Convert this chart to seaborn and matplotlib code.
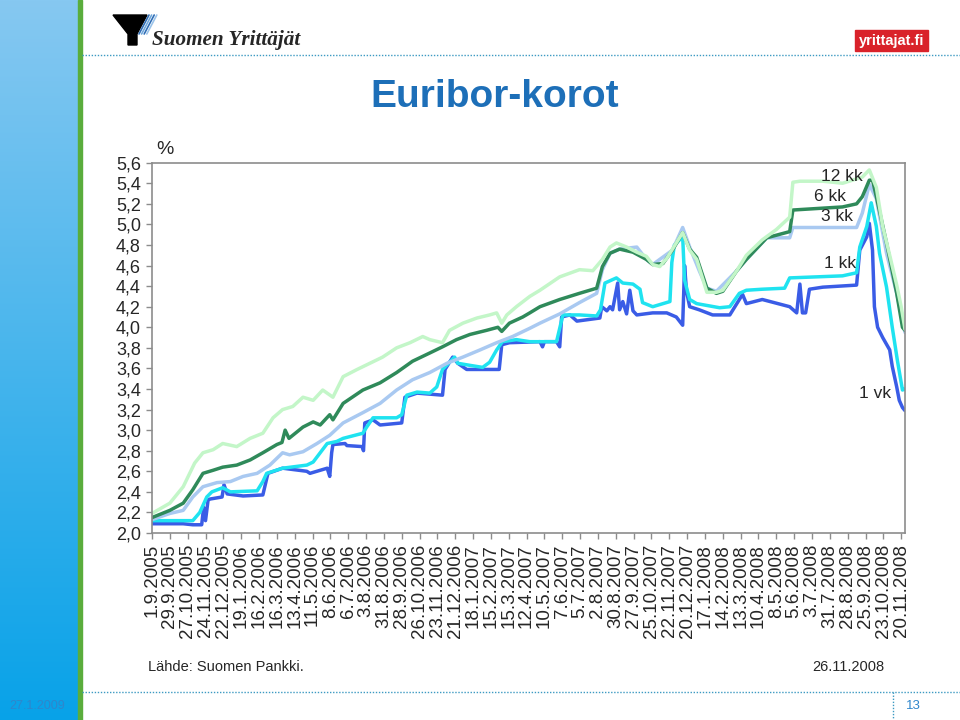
import numpy as np
import pandas as pd
import matplotlib
matplotlib.use("Agg")
import matplotlib.pyplot as plt
from matplotlib.patches import Rectangle, Polygon
import seaborn as sns

sns.set_theme(style="white")
plt.rcParams["font.family"] = ["Liberation Sans", "DejaVu Sans"]

# --- data (date, %) ---
series_names = ["1 vk", "1 kk", "3 kk", "6 kk", "12 kk"]
series_colors = ["#3a5ce6", "#1fe3f0", "#a9c9f1", "#2f8a5a", "#c3f6c8"]

vk1 = [
    ("2005-09-01", 2.09), ("2005-10-20", 2.09), ("2005-11-04", 2.08), ("2005-11-18", 2.08),
    ("2005-11-21", 2.25), ("2005-11-24", 2.12), ("2005-11-28", 2.32), ("2005-12-01", 2.33),
    ("2005-12-20", 2.35), ("2005-12-23", 2.47), ("2005-12-28", 2.38), ("2006-01-22", 2.36),
    ("2006-02-22", 2.37), ("2006-03-02", 2.58), ("2006-03-25", 2.63), ("2006-05-02", 2.60),
    ("2006-05-07", 2.58), ("2006-06-03", 2.63), ("2006-06-07", 2.55), ("2006-06-10", 2.78),
    ("2006-06-12", 2.86), ("2006-07-01", 2.87), ("2006-07-04", 2.85), ("2006-07-28", 2.84),
    ("2006-07-30", 2.80), ("2006-08-01", 3.07), ("2006-08-14", 3.10), ("2006-08-25", 3.05),
    ("2006-09-28", 3.07), ("2006-10-03", 3.32), ("2006-10-22", 3.36), ("2006-12-01", 3.34),
    ("2006-12-05", 3.59), ("2006-12-17", 3.71), ("2006-12-25", 3.65), ("2007-01-08", 3.59),
    ("2007-02-28", 3.59), ("2007-03-04", 3.83), ("2007-03-16", 3.85), ("2007-05-03", 3.86),
    ("2007-05-07", 3.81), ("2007-05-10", 3.86), ("2007-05-29", 3.86), ("2007-06-03", 3.81),
    ("2007-06-06", 4.10), ("2007-06-19", 4.12), ("2007-06-30", 4.06), ("2007-08-05", 4.09),
    ("2007-08-08", 4.20), ("2007-08-16", 4.16), ("2007-08-21", 4.20), ("2007-08-25", 4.17),
    ("2007-09-02", 4.43), ("2007-09-05", 4.17), ("2007-09-10", 4.25), ("2007-09-16", 4.13),
    ("2007-09-21", 4.36), ("2007-09-26", 4.16), ("2007-10-02", 4.12), ("2007-10-27", 4.14),
    ("2007-11-18", 4.14), ("2007-12-03", 4.10), ("2007-12-13", 4.02), ("2007-12-16", 4.60),
    ("2007-12-19", 4.35), ("2007-12-24", 4.20), ("2008-01-08", 4.17), ("2008-01-29", 4.12),
    ("2008-02-25", 4.12), ("2008-03-16", 4.32), ("2008-03-22", 4.23), ("2008-04-16", 4.27),
    ("2008-05-29", 4.20), ("2008-06-09", 4.14), ("2008-06-14", 4.42), ("2008-06-18", 4.14),
    ("2008-06-23", 4.14), ("2008-06-29", 4.37), ("2008-07-20", 4.39), ("2008-09-11", 4.41),
    ("2008-09-16", 4.75), ("2008-09-27", 4.88), ("2008-10-01", 5.01), ("2008-10-06", 4.75),
    ("2008-10-09", 4.20), ("2008-10-14", 4.00), ("2008-10-22", 3.90), ("2008-11-02", 3.78),
    ("2008-11-06", 3.62), ("2008-11-13", 3.42), ("2008-11-17", 3.29), ("2008-11-22", 3.22),
    ("2008-11-26", 3.19),
]

kk1 = [
    ("2005-09-01", 2.12), ("2005-11-04", 2.12), ("2005-11-15", 2.20), ("2005-11-26", 2.35),
    ("2005-12-04", 2.40), ("2005-12-21", 2.44), ("2006-01-02", 2.40), ("2006-02-13", 2.41),
    ("2006-02-22", 2.50), ("2006-02-28", 2.58), ("2006-03-25", 2.63), ("2006-05-02", 2.66),
    ("2006-05-12", 2.69), ("2006-05-23", 2.78), ("2006-06-03", 2.87), ("2006-06-18", 2.89),
    ("2006-06-28", 2.92), ("2006-07-29", 2.97), ("2006-08-04", 3.03), ("2006-08-14", 3.12),
    ("2006-09-20", 3.12), ("2006-09-28", 3.15), ("2006-10-06", 3.34), ("2006-10-22", 3.37),
    ("2006-11-11", 3.36), ("2006-11-22", 3.42), ("2006-12-01", 3.59), ("2006-12-12", 3.66),
    ("2006-12-20", 3.71), ("2006-12-25", 3.65), ("2007-01-13", 3.63), ("2007-02-02", 3.61),
    ("2007-02-13", 3.66), ("2007-02-24", 3.78), ("2007-03-05", 3.86), ("2007-03-27", 3.88),
    ("2007-04-17", 3.86), ("2007-05-29", 3.86), ("2007-06-08", 4.12), ("2007-07-04", 4.12),
    ("2007-07-31", 4.11), ("2007-08-06", 4.17), ("2007-08-13", 4.43), ("2007-08-31", 4.48),
    ("2007-09-10", 4.43), ("2007-09-26", 4.42), ("2007-10-07", 4.37), ("2007-10-11", 4.24),
    ("2007-10-27", 4.20), ("2007-11-23", 4.25), ("2007-11-26", 4.63), ("2007-11-30", 4.80),
    ("2007-12-13", 4.88), ("2007-12-16", 4.46), ("2007-12-24", 4.27), ("2008-01-04", 4.23),
    ("2008-02-09", 4.19), ("2008-02-25", 4.20), ("2008-03-11", 4.33), ("2008-03-22", 4.36),
    ("2008-04-16", 4.37), ("2008-05-21", 4.38), ("2008-05-29", 4.48), ("2008-08-20", 4.50),
    ("2008-09-11", 4.53), ("2008-09-16", 4.78), ("2008-09-27", 4.98), ("2008-10-04", 5.21),
    ("2008-10-12", 4.98), ("2008-10-17", 4.72), ("2008-10-28", 4.39), ("2008-11-06", 4.00),
    ("2008-11-14", 3.68), ("2008-11-22", 3.39), ("2008-11-26", 3.40),
]

kk3 = [
    ("2005-09-01", 2.13), ("2005-09-29", 2.19), ("2005-10-20", 2.22), ("2005-11-04", 2.35),
    ("2005-11-20", 2.45), ("2005-12-12", 2.49), ("2006-01-02", 2.50), ("2006-01-22", 2.55),
    ("2006-02-13", 2.58), ("2006-03-05", 2.66), ("2006-03-25", 2.78), ("2006-04-05", 2.76),
    ("2006-04-26", 2.79), ("2006-05-18", 2.87), ("2006-06-07", 2.95), ("2006-06-28", 3.07),
    ("2006-07-29", 3.17), ("2006-08-25", 3.26), ("2006-09-20", 3.39), ("2006-10-15", 3.49),
    ("2006-11-11", 3.56), ("2006-12-08", 3.65), ("2007-01-02", 3.71), ("2007-01-29", 3.78),
    ("2007-02-24", 3.85), ("2007-03-21", 3.91), ("2007-04-17", 3.99), ("2007-05-03", 4.04),
    ("2007-06-03", 4.13), ("2007-07-04", 4.24), ("2007-07-31", 4.33), ("2007-08-09", 4.56),
    ("2007-08-21", 4.72), ("2007-09-05", 4.76), ("2007-10-02", 4.78), ("2007-10-17", 4.66),
    ("2007-10-27", 4.61), ("2007-11-27", 4.75), ("2007-12-13", 4.97), ("2007-12-24", 4.78),
    ("2008-01-08", 4.55), ("2008-01-20", 4.38), ("2008-02-04", 4.35), ("2008-03-07", 4.55),
    ("2008-03-22", 4.66), ("2008-04-23", 4.87), ("2008-05-29", 4.87), ("2008-06-03", 4.97),
    ("2008-09-11", 4.97), ("2008-09-20", 5.11), ("2008-10-01", 5.39), ("2008-10-12", 5.25),
    ("2008-10-28", 4.72), ("2008-11-13", 4.33), ("2008-11-26", 3.95),
]

kk6 = [
    ("2005-09-01", 2.15), ("2005-09-29", 2.22), ("2005-10-20", 2.29), ("2005-11-04", 2.42),
    ("2005-11-20", 2.58), ("2005-12-06", 2.61), ("2005-12-21", 2.64), ("2006-01-12", 2.66),
    ("2006-02-02", 2.71), ("2006-02-22", 2.78), ("2006-03-16", 2.86), ("2006-03-24", 2.88),
    ("2006-03-29", 3.00), ("2006-04-04", 2.92), ("2006-04-26", 3.03), ("2006-05-12", 3.08),
    ("2006-05-23", 3.05), ("2006-06-07", 3.15), ("2006-06-12", 3.10), ("2006-06-28", 3.26),
    ("2006-07-29", 3.39), ("2006-08-25", 3.46), ("2006-09-20", 3.56), ("2006-10-15", 3.67),
    ("2006-11-11", 3.75), ("2006-12-01", 3.81), ("2006-12-23", 3.88), ("2007-01-13", 3.93),
    ("2007-02-08", 3.97), ("2007-02-26", 4.00), ("2007-03-04", 3.96), ("2007-03-16", 4.04),
    ("2007-04-06", 4.10), ("2007-04-17", 4.14), ("2007-05-03", 4.20), ("2007-06-03", 4.27),
    ("2007-07-04", 4.33), ("2007-07-31", 4.38), ("2007-08-09", 4.59), ("2007-08-21", 4.72),
    ("2007-09-05", 4.76), ("2007-09-26", 4.73), ("2007-10-17", 4.66), ("2007-10-27", 4.61),
    ("2007-11-12", 4.62), ("2007-11-27", 4.75), ("2007-12-13", 4.92), ("2007-12-24", 4.76),
    ("2008-01-04", 4.68), ("2008-01-20", 4.38), ("2008-02-04", 4.33), ("2008-02-14", 4.35),
    ("2008-03-07", 4.55), ("2008-03-22", 4.66), ("2008-04-23", 4.87), ("2008-05-29", 4.93),
    ("2008-06-03", 5.14), ("2008-06-29", 5.15), ("2008-08-20", 5.17), ("2008-09-11", 5.20),
    ("2008-09-20", 5.27), ("2008-10-01", 5.43), ("2008-10-06", 5.43), ("2008-10-12", 5.27),
    ("2008-10-28", 4.82), ("2008-11-13", 4.33), ("2008-11-22", 4.00), ("2008-11-26", 3.97),
]

kk12 = [
    ("2005-09-01", 2.19), ("2005-09-29", 2.29), ("2005-10-20", 2.45), ("2005-11-07", 2.68),
    ("2005-11-20", 2.78), ("2005-12-06", 2.81), ("2005-12-21", 2.87), ("2006-01-12", 2.84),
    ("2006-02-02", 2.92), ("2006-02-22", 2.97), ("2006-03-10", 3.12), ("2006-03-25", 3.20),
    ("2006-04-10", 3.23), ("2006-04-26", 3.32), ("2006-05-12", 3.29), ("2006-05-27", 3.39),
    ("2006-06-12", 3.32), ("2006-06-28", 3.52), ("2006-07-20", 3.59), ("2006-08-09", 3.65),
    ("2006-08-29", 3.71), ("2006-09-20", 3.80), ("2006-10-11", 3.85), ("2006-10-31", 3.91),
    ("2006-11-11", 3.88), ("2006-12-01", 3.85), ("2006-12-12", 3.97), ("2007-01-02", 4.04),
    ("2007-01-24", 4.09), ("2007-02-13", 4.12), ("2007-02-24", 4.14), ("2007-03-04", 4.04),
    ("2007-03-12", 4.12), ("2007-03-27", 4.20), ("2007-04-17", 4.30), ("2007-05-03", 4.36),
    ("2007-06-03", 4.49), ("2007-07-04", 4.56), ("2007-07-25", 4.55), ("2007-08-09", 4.66),
    ("2007-08-21", 4.78), ("2007-08-31", 4.82), ("2007-09-16", 4.78), ("2007-10-02", 4.73),
    ("2007-10-17", 4.69), ("2007-10-27", 4.61), ("2007-11-07", 4.59), ("2007-11-18", 4.67),
    ("2007-12-03", 4.82), ("2007-12-13", 4.92), ("2007-12-24", 4.75), ("2008-01-04", 4.66),
    ("2008-01-20", 4.34), ("2008-02-04", 4.34), ("2008-02-14", 4.36), ("2008-03-07", 4.55),
    ("2008-03-22", 4.70), ("2008-04-16", 4.85), ("2008-05-08", 4.95), ("2008-05-29", 5.07),
    ("2008-06-03", 5.41), ("2008-06-14", 5.42), ("2008-07-20", 5.42), ("2008-08-20", 5.40),
    ("2008-09-20", 5.46), ("2008-10-01", 5.53), ("2008-10-12", 5.36), ("2008-10-22", 4.98),
    ("2008-11-02", 4.70), ("2008-11-13", 4.41), ("2008-11-20", 4.20), ("2008-11-26", 3.98),
]

tick_labels = [
    "1.9.2005", "29.9.2005", "27.10.2005", "24.11.2005", "22.12.2005", "19.1.2006",
    "16.2.2006", "16.3.2006", "13.4.2006", "11.5.2006", "8.6.2006", "6.7.2006",
    "3.8.2006", "31.8.2006", "28.9.2006", "26.10.2006", "23.11.2006", "21.12.2006",
    "18.1.2007", "15.2.2007", "15.3.2007", "12.4.2007", "10.5.2007", "7.6.2007",
    "5.7.2007", "2.8.2007", "30.8.2007", "27.9.2007", "25.10.2007", "22.11.2007",
    "20.12.2007", "17.1.2008", "14.2.2008", "13.3.2008", "10.4.2008", "8.5.2008",
    "5.6.2008", "3.7.2008", "31.7.2008", "28.8.2008", "25.9.2008", "23.10.2008",
    "20.11.2008",
]
y_ticks = [2.0, 2.2, 2.4, 2.6, 2.8, 3.0, 3.2, 3.4, 3.6, 3.8, 4.0, 4.2, 4.4, 4.6, 4.8, 5.0, 5.2, 5.4, 5.6]

# where each series name sits in the plot: (right edge date, value)
label_pos = {
    "12 kk": ("2008-09-20", 5.47),
    "6 kk": ("2008-08-26", 5.27),
    "3 kk": ("2008-09-06", 5.08),
    "1 kk": ("2008-09-11", 4.62),
    "1 vk": ("2008-11-05", 3.36),
}

frames = []
for name, pts in zip(series_names, [vk1, kk1, kk3, kk6, kk12]):
    d = pd.DataFrame(pts, columns=["date", "value"])
    d["date"] = pd.to_datetime(d["date"])
    d["series"] = name
    frames.append(d)
df = pd.concat(frames, ignore_index=True)

W, H = 960, 720
fig = plt.figure(figsize=(9.6, 7.2), dpi=100)
fig.patch.set_facecolor("white")


def fx(x):
    return x / W


def fy(y):
    return 1 - y / H


# slide decoration in pixel coordinates
deco = fig.add_axes([0, 0, 1, 1], zorder=-1)
deco.axis("off")

grad = np.linspace(0, 1, 256).reshape(-1, 1)
top_c = np.array([0x86, 0xc8, 0xf1]) / 255
bot_c = np.array([0x08, 0xa2, 0xe8]) / 255
img = top_c[None, None, :] * (1 - grad[:, :, None]) + bot_c[None, None, :] * grad[:, :, None]
deco.imshow(img, extent=[0, 78, H, 0], aspect="auto", zorder=0)
deco.add_patch(Rectangle((78, 0), 4, H, color="#5aad3c", zorder=1))
deco.set_xlim(0, W)
deco.set_ylim(H, 0)

deco.plot([82, W], [55, 55], ls=(0, (1, 1.2)), color="#3d9ac2", lw=1)
deco.plot([82, W], [692, 692], ls=(0, (1, 1.2)), color="#3d9ac2", lw=1)
deco.plot([893, 893], [692, H], ls=(0, (1, 1.2)), color="#3d9ac2", lw=1)

# logo
deco.add_patch(Polygon([(113, 15), (147, 15), (137, 34), (137, 45), (128, 45), (128, 34)],
                       closed=True, color="black", zorder=2))
for i, c in enumerate(["#2f6db5", "#6fa8dc", "#2f6db5", "#9cc4ea"]):
    deco.plot([149 + 2.6 * i, 139 + 2.6 * i], [15, 34], color=c, lw=1.2, zorder=2)
deco.text(152, 45, "Suomen Yrittäjät", fontsize=15.2, fontweight="bold", fontstyle="italic",
          family=["Liberation Serif", "DejaVu Serif"], ha="left", va="baseline")
deco.add_patch(Rectangle((855, 30), 73, 21, color="#d9222a", zorder=2))
deco.text(891.5, 40.5, "yrittajat.fi", fontsize=10.5, fontweight="bold", color="white",
          family=["Liberation Sans Narrow", "Liberation Sans"], ha="center", va="center", zorder=3)

fig.text(fx(495), fy(97), "Euribor-korot", fontsize=28, fontweight="bold", color="#1d6fb8",
         ha="center", va="center")
fig.text(fx(165), fy(150), "%", fontsize=14, ha="center", va="center")
fig.text(fx(148), fy(667), "Lähde: Suomen Pankki.", fontsize=10.5, ha="left", va="center")
fig.text(fx(884), fy(667), "26.11.2008", fontsize=10.5, ha="right", va="center")
fig.text(fx(37), fy(706), "27.1.2009", fontsize=9, color="#2f86cc", ha="center", va="center")
fig.text(fx(913), fy(706), "13", fontsize=9.5, color="#2f86cc", ha="center", va="center")

# chart
ax = fig.add_axes([fx(152), fy(533), fx(905 - 152), (533 - 162.7) / H])
ax.set_facecolor("white")
sns.lineplot(data=df, x="date", y="value", hue="series", hue_order=series_names,
             palette=dict(zip(series_names, series_colors)), linewidth=2.5,
             estimator=None, sort=False, legend=False, ax=ax)

ax.set_xlim(pd.Timestamp("2005-09-01"), pd.Timestamp("2008-11-26"))
ax.set_ylim(2.0, 5.6)
tick_dates = pd.to_datetime(tick_labels, format="%d.%m.%Y")
ax.set_xticks(tick_dates)
ax.set_xticklabels(tick_labels, rotation=90, fontsize=13.5)
ax.set_yticks(y_ticks)
ax.set_yticklabels([f"{v:.1f}".replace(".", ",") for v in y_ticks], fontsize=13)
ax.tick_params(axis="both", direction="out", length=4, width=1, color="#8c8c8c",
               pad=4, bottom=True, left=True)
ax.set_xlabel("")
ax.set_ylabel("")
for s in ax.spines.values():
    s.set_color("#8c8c8c")
    s.set_linewidth(1.2)

for name, (d, v) in label_pos.items():
    ax.text(pd.Timestamp(d), v, name, fontsize=12.5, ha="right", va="center")

fig.savefig("out.png", dpi=100)
